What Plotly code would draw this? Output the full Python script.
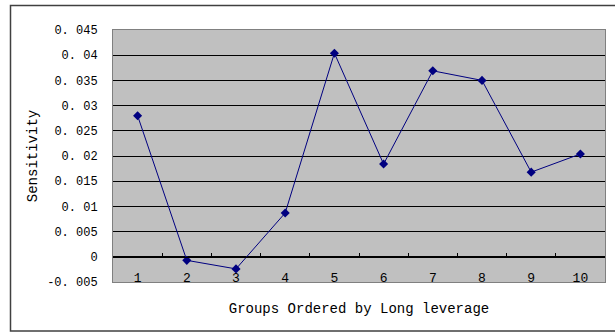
import plotly.graph_objects as go

# Sensitivity by leverage group
groups = [1, 2, 3, 4, 5, 6, 7, 8, 9, 10]
sensitivity = [0.0280, -0.0007, -0.0024, 0.0087, 0.0404, 0.0184, 0.0369, 0.0350, 0.0168, 0.0204]

y_ticks = [-0.005, 0.0, 0.005, 0.01, 0.015, 0.02, 0.025, 0.03, 0.035, 0.04, 0.045]
y_tick_text = ["-0. 005", "0", "0. 005", "0. 01", "0. 015", "0. 02", "0. 025",
               "0. 03", "0. 035", "0. 04", "0. 045"]
group_edges = [g + 0.5 for g in [0] + groups]

x_title = "Groups Ordered by Long leverage"
y_title = "Sensitivity"

FONT = "Liberation Mono, DejaVu Sans Mono, monospace"
NAVY = "#000080"

fig = go.Figure()
fig.add_trace(go.Scatter(
    x=groups, y=sensitivity, mode="lines+markers",
    line=dict(color=NAVY, width=1),
    marker=dict(symbol="diamond", size=7, color=NAVY),
    showlegend=False,
))

# category axis with the tick marks sitting on the zero line
fig.add_trace(go.Scatter(x=[group_edges[0], group_edges[-1]], y=[0, 0], xaxis="x2",
                         mode="lines", line=dict(width=0), showlegend=False,
                         hoverinfo="skip"))

ymin, ymax = y_ticks[0], y_ticks[-1]
pad = 1e-7
zero_pos = (0 - ymin) / (ymax - ymin)

fig.update_layout(
    width=615, height=332,
    margin=dict(l=113, r=10, t=30, b=50),
    paper_bgcolor="white",
    plot_bgcolor="#C0C0C0",
    font=dict(family=FONT, size=12, color="black"),
    xaxis=dict(
        range=[group_edges[0], group_edges[-1]],
        tickvals=groups, ticktext=[str(g) for g in groups],
        ticks="", showgrid=False, zeroline=False,
        ticklabelposition="outside", ticklabelstandoff=-17,
        tickfont=dict(family=FONT, size=13, color="black"),
        showline=True, linecolor="#808080", linewidth=1, mirror=True,
        title=dict(text=x_title, font=dict(family=FONT, size=14), standoff=18),
    ),
    xaxis2=dict(
        range=[group_edges[0], group_edges[-1]],
        overlaying="x", anchor="free", position=zero_pos,
        tickvals=group_edges, ticks="inside", ticklen=4, tickcolor="black",
        showticklabels=False, showgrid=False, zeroline=False,
        showline=True, linecolor="black", linewidth=1,
    ),
    yaxis=dict(
        range=[ymin - pad, ymax + pad],
        tickvals=y_ticks, ticktext=y_tick_text,
        ticks="", ticklabelstandoff=12,
        tickfont=dict(family=FONT, size=12, color="black"),
        showgrid=True, gridcolor="black", gridwidth=1,
        zeroline=True, zerolinecolor="black", zerolinewidth=1,
        showline=True, linecolor="#808080", linewidth=1, mirror=True,
        title=dict(text=y_title, font=dict(family=FONT, size=14), standoff=6),
    ),
    shapes=[dict(
        type="rect", xref="paper", yref="paper",
        x0=(10.5 - 113) / 492, x1=1.1, y0=-(331 - 282) / 252, y1=1 + (30 - 5.5) / 252,
        line=dict(color="#404040", width=1.5), fillcolor="rgba(0,0,0,0)", layer="below",
    )],
)

fig.write_html("out.html")
